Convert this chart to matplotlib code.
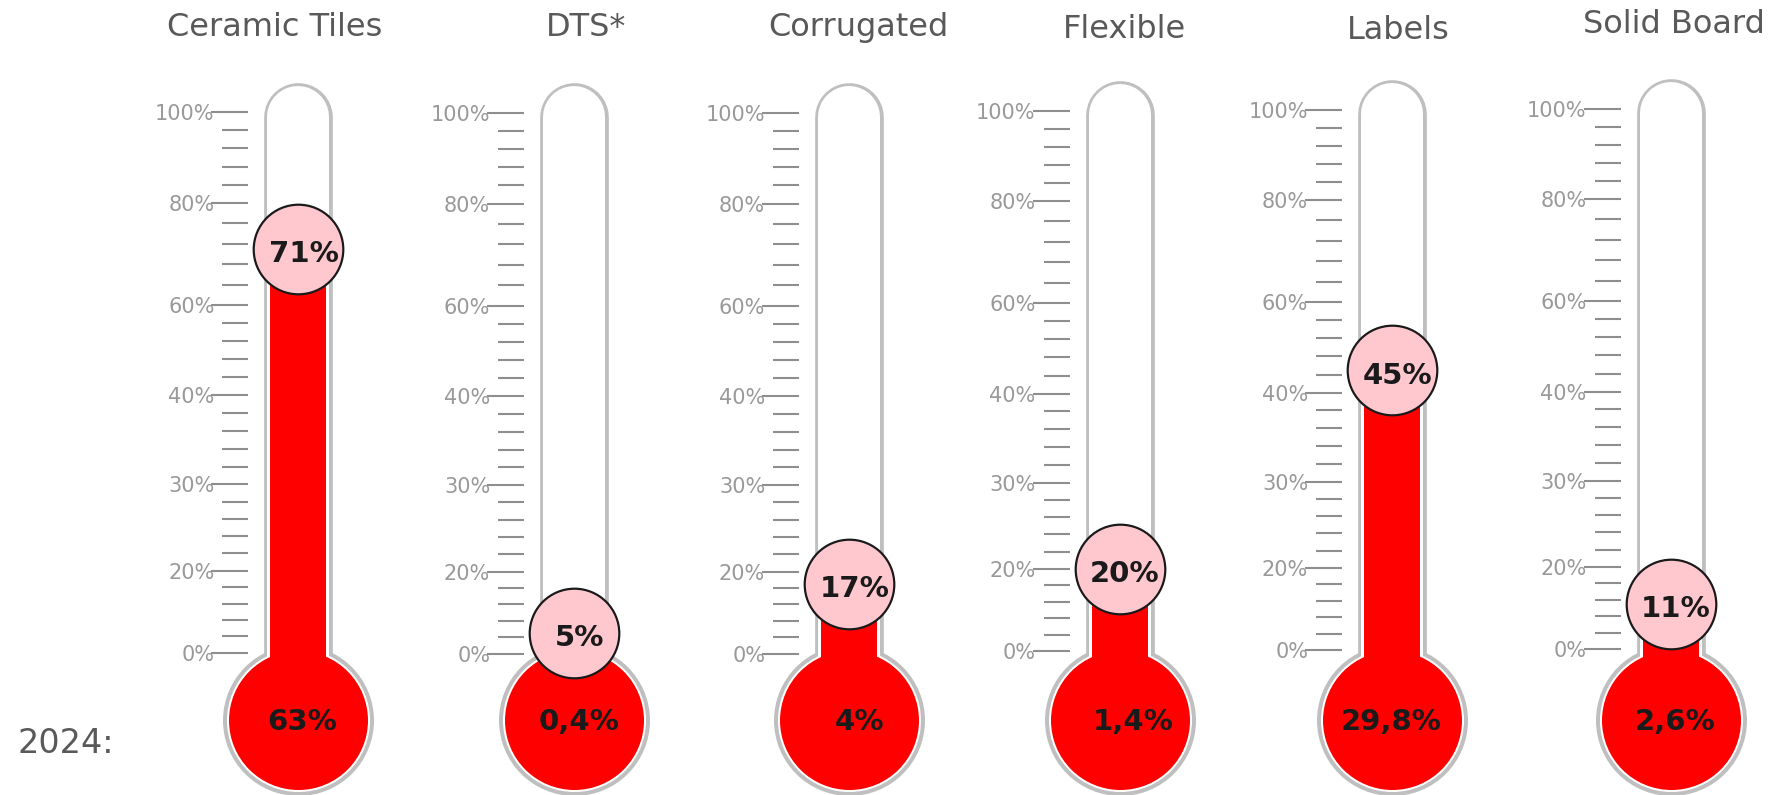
import numpy as np
import matplotlib
matplotlib.use("Agg")
import matplotlib.pyplot as plt
from matplotlib.transforms import blended_transform_factory

# ---- data -------------------------------------------------------------
categories = ["Ceramic Tiles", "DTS*", "Corrugated", "Flexible", "Labels", "Solid Board"]
share_now = [71, 5, 17, 20, 45, 11]            # value shown in the pink bubble
share_2024 = [63, 0.4, 4, 1.4, 29.8, 2.6]      # value shown in the bulb
scale_values = [0, 20, 30, 40, 60, 80, 100]
scale_labels = ["0%", "20%", "30%", "40%", "60%", "80%", "100%"]
year_label = "2024:"

# ---- layout (pixels) --------------------------------------------------
W, H, DPI = 1773, 795, 100
centers_x = [298.3, 574.0, 849.0, 1119.5, 1392.0, 1670.5]
zero_y = [652.7, 653.5, 653.5, 651.0, 650.0, 649.0]          # 0% mark
title_xy = [(275, 36), (585.7, 36), (858.2, 36), (1125, 38.3), (1398.7, 39.4), (1674.2, 33.3)]
bulb_text_dx = [4, 5, 10, 14, -1, 5]
ruler_px = [0, 82, 168.4, 257.4, 347.7, 450, 540.4]          # height of each scale mark above 0%
BULB_Y = 720.0
HALF = 135.0

GRAY_OUT = "#bfbfbf"
RED = "#ff0000"
PINK = "#ffc7ce"
INK = "#1a1a1a"
TITLE = "#595959"


def pt(px):
    return px * 72.0 / DPI


def fy(px):
    return 1.0 - px / H


# thermometer scale: piecewise linear between the labelled marks
_v = np.array(scale_values, float)
_r = np.array(ruler_px, float)
_lo = (_r[1] - _r[0]) / (_v[1] - _v[0])
_hi = (_r[-1] - _r[-2]) / (_v[-1] - _v[-2])


def fwd(x):
    x = np.asarray(x, float)
    out = np.interp(x, _v, _r)
    out = np.where(x < _v[0], _r[0] + (x - _v[0]) * _lo, out)
    out = np.where(x > _v[-1], _r[-1] + (x - _v[-1]) * _hi, out)
    return out


def inv(y):
    y = np.asarray(y, float)
    out = np.interp(y, _r, _v)
    out = np.where(y < _r[0], _v[0] + (y - _r[0]) / _lo, out)
    out = np.where(y > _r[-1], _v[-1] + (y - _r[-1]) / _hi, out)
    return out


minor_values = np.concatenate([np.linspace(a, b, 6)[1:-1]
                               for a, b in zip(scale_values[:-1], scale_values[1:])])


def fmt(v):
    return f"{v:g}".replace(".", ",") + "%"


plt.rcParams["font.family"] = ["DejaVu Sans"]
fig = plt.figure(figsize=(W / DPI, H / DPI), dpi=DPI)
fig.patch.set_facecolor("white")

for i, name in enumerate(categories):
    cx, z = centers_x[i], zero_y[i]
    ax = fig.add_axes([(cx - HALF) / W, 0, 2 * HALF / W, 1])
    ax.patch.set_visible(False)
    ax.set_xlim(-HALF, HALF)
    ax.set_yscale("function", functions=(fwd, inv))
    ax.set_ylim(float(inv(z - H)), float(inv(z)))
    for s in ax.spines.values():
        s.set_visible(False)
    ax.spines["left"].set_position(("data", -50))
    ax.set_xticks([])
    ax.set_yticks(scale_values, scale_labels)
    ax.set_yticks(minor_values, minor=True)
    ax.tick_params(axis="y", which="both", direction="out", color="#8e8e8e",
                   width=1.5, labelcolor="#999999", labelsize=15, pad=-2.0)
    ax.tick_params(axis="y", which="major", length=pt(36.6))
    ax.tick_params(axis="y", which="minor", length=pt(26.3))

    tr = blended_transform_factory(ax.transData, ax.transAxes)
    top_px = z - ruler_px[-1] - 30 + 34.35
    tube_y = [fy(BULB_Y), fy(top_px)]
    bulb = [fy(BULB_Y)]

    # glass outline
    ax.plot([0, 0], tube_y, color=GRAY_OUT, lw=pt(68.7), solid_capstyle="round",
            transform=tr, zorder=1)
    ax.plot([0], bulb, "o", ms=pt(151), mfc=GRAY_OUT, mew=0, transform=tr, zorder=2)
    ax.plot([0], bulb, "o", ms=pt(143), mfc="white", mew=0, transform=tr, zorder=3)
    ax.plot([0, 0], tube_y, color="white", lw=pt(62), solid_capstyle="round",
            transform=tr, zorder=4)

    # liquid column up to the current value
    base = float(inv(z - BULB_Y))
    ax.bar(0, share_now[i] - base, bottom=base, width=56, color=RED, lw=0, zorder=5)
    ax.plot([0], bulb, "o", ms=pt(139), mfc=RED, mew=0, transform=tr, zorder=6)

    # bubble with the current value
    ax.plot([0], [share_now[i]], "o", ms=pt(89.6), mfc=PINK, mec=INK, mew=pt(2.2), zorder=7)
    ax.annotate(fmt(share_now[i]), (0, share_now[i]), xytext=(pt(5.5), -pt(3 + 10.5)),
                textcoords="offset points", ha="center", va="baseline",
                fontsize=21, fontweight="bold", color=INK, zorder=8)

    # 2024 value in the bulb
    ax.text(bulb_text_dx[i], fy(BULB_Y + 10.5), fmt(share_2024[i]), transform=tr,
            ha="center", va="baseline", fontsize=21, fontweight="bold", color=INK, zorder=8)

    tx, ty = title_xy[i]
    fig.text(tx / W, fy(ty), name, ha="center", va="baseline", fontsize=23, color=TITLE)

fig.text(17 / W, fy(753.3), year_label, ha="left", va="baseline", fontsize=24, color=TITLE)

fig.savefig("out.png", dpi=DPI, facecolor="white")
